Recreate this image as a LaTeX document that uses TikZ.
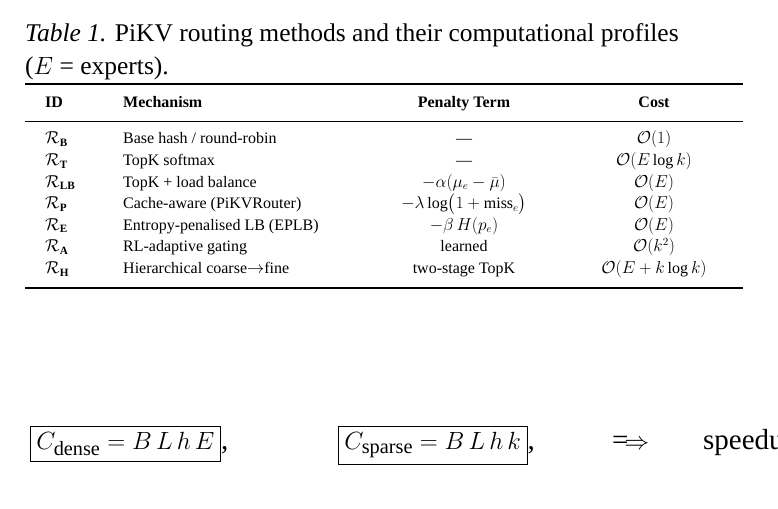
\documentclass[tikz,border=0pt]{standalone}
\usepackage{amsmath}
\usepackage{fontspec}
\setmainfont{Liberation Serif}
\newcommand{\calO}{\mathcal{O}}
\begin{document}
\begin{tikzpicture}[x=1pt,y=1pt,
  tb/.style={font=\fontsize{16}{18}\selectfont, inner sep=0pt},
  captxt/.style={font=\fontsize{25.5}{30}\selectfont, inner sep=0pt, anchor=base west},
  eq/.style={font=\fontsize{29}{34}\selectfont, inner sep=0pt}]
\useasboundingbox (0,0) rectangle (778,508);
\clip (0,0) rectangle (778,508);
\fill[white] (0,0) rectangle (778,508);
\node[captxt] (c1) at (25,466) {\textit{Table 1.} PiKV routing methods and their computational profiles};
\node[captxt] (c2) at (25,433) {($E$ = experts).};
\draw[line width=1.8] (25,424) -- (743,424);
\draw[line width=0.8] (25,387) -- (743,387);
\draw[line width=1.8] (25,220) -- (743,220);
\foreach \n/\x/\t in {h1/45/ID, h2/123/Mechanism}
  \node[tb,anchor=base west] (\n) at (\x,400) {\textbf{\t}};
\node[tb,anchor=base] (h3) at (464,400) {\textbf{Penalty Term}};
\node[tb,anchor=base] (h4) at (654,400) {\textbf{Cost}};
\foreach \i/\id/\mech/\pen/\cost in {
 1/B/{Base hash / round-robin}/{---}/{$\calO(1)$},
 2/T/{TopK softmax}/{---}/{$\calO(E\log k)$},
 3/LB/{TopK + load balance}/{$-\alpha(\mu_e-\bar\mu)$}/{$\calO(E)$},
 4/P/{Cache-aware (PiKVRouter)}/{$-\lambda\log\!\big(1+\text{miss}_e\big)$}/{$\calO(E)$},
 5/E/{Entropy-penalised LB (EPLB)}/{$-\beta\,H(p_e)$}/{$\calO(E)$},
 6/A/{RL-adaptive gating}/{learned}/{$\calO(k^2)$},
 7/H/{Hierarchical coarse$\to$fine}/{two-stage TopK}/{$\calO(E+k\log k)$}}{
  \pgfmathsetmacro{\yy}{364-21.6*(\i-1)}
  \node[tb,anchor=base west] (id\i) at (45,\yy) {$\mathcal{R}_{\text{\textbf{\id}}}$};
  \node[tb,anchor=base west] (m\i) at (123,\yy) {\mech};
  \node[tb,anchor=base] (p\i) at (464,\yy) {\pen};
  \node[tb,anchor=base] (k\i) at (654,\yy) {\cost};
}
\node[eq,draw,line width=0.7,inner sep=6pt,anchor=base west] (e1) at (30,58) {$C_{\text{dense}}=B\,L\,h\,E$};
\node[eq,anchor=base west] (cm1) at (e1.base east) {,};
\node[eq,draw,line width=0.7,inner sep=6pt,anchor=base west] (e2) at (338,58) {$C_{\text{sparse}}=B\,L\,h\,k$};
\node[eq,anchor=base west] (cm2) at (e2.base east) {,};
\node[eq,anchor=base west] (imp) at (612,58) {$\Longrightarrow$};
\node[eq,anchor=base west] (sp) at (703,58) {speedup};
\end{tikzpicture}
\end{document}
